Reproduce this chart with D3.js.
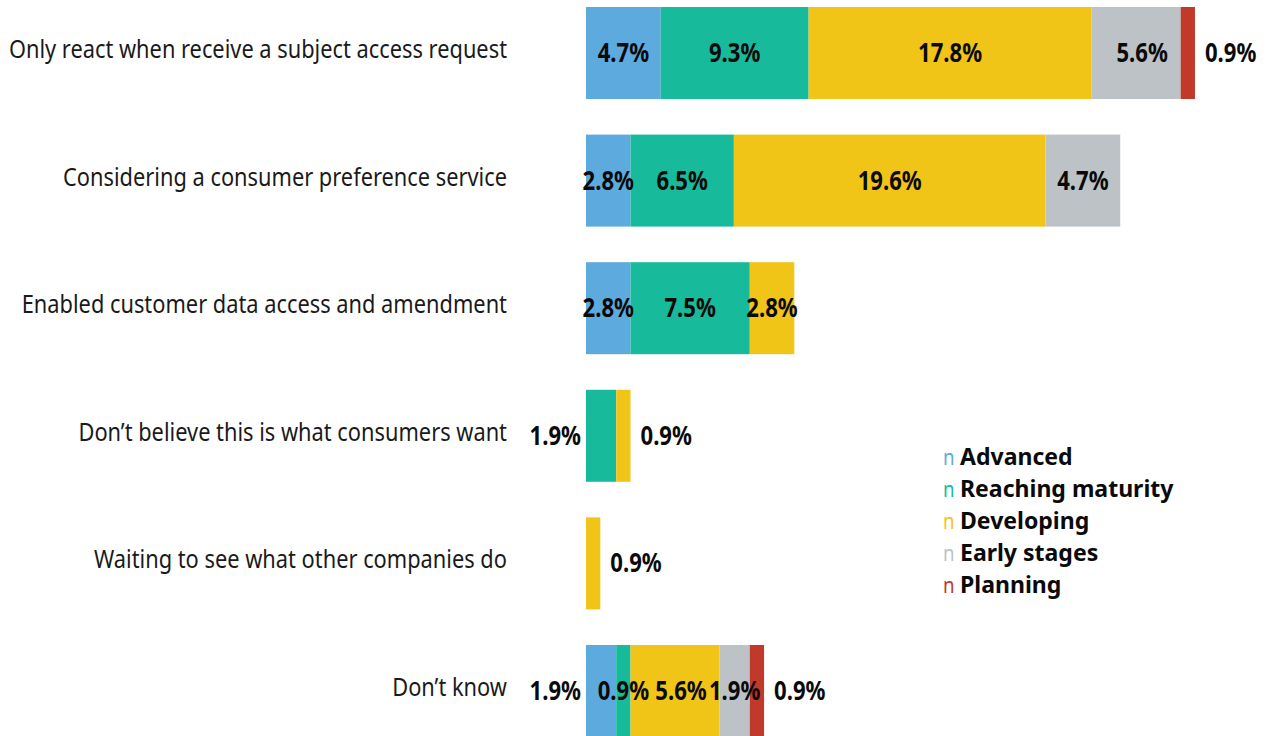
<!DOCTYPE html>
<html>
<head>
<meta charset="utf-8">
<script src="https://cdn.jsdelivr.net/npm/d3@7"></script>
<style>
  html, body { margin: 0; padding: 0; background: #fff; }
  svg { display: block; }
</style>
</head>
<body>
<svg id="chart" width="1271" height="736"></svg>
<script>
// Stages of maturity, in stacking order
const stages = ["Advanced", "Reaching maturity", "Developing", "Early stages", "Planning"];
const stageColors = ["#5DAADF", "#17BB9B", "#F1C418", "#BCC2C5", "#C0392B"];

// Responses (one bar each)
const categories = [
  "Only react when receive a subject access request",
  "Considering a consumer preference service",
  "Enabled customer data access and amendment",
  "Don\u2019t believe this is what consumers want",
  "Waiting to see what other companies do",
  "Don\u2019t know"
];

// Share of respondents (%) per stage, one array per stage
const advanced         = [4.7, 2.8, 2.8, 0,   0,   1.9];
const reachingMaturity = [9.3, 6.5, 7.5, 1.9, 0,   0.9];
const developing       = [17.8, 19.6, 2.8, 0.9, 0.9, 5.6];
const earlyStages      = [5.6, 4.7, 0,   0,   0,   1.9];
const planning         = [0.9, 0,   0,   0,   0,   0.9];

const seriesValues = [advanced, reachingMaturity, developing, earlyStages, planning];

const svg = d3.select("#chart");

const x = d3.scaleLinear().domain([0, 40]).range([586, 1222]);
const y = d3.scaleBand().domain(categories).range([7, 737]).paddingInner(0.279).paddingOuter(0);

const rows = categories.map((c, i) => {
  const obj = { category: c };
  stages.forEach((s, k) => obj[s] = seriesValues[k][i]);
  return obj;
});

const stacked = d3.stack().keys(stages)(rows);

// horizontally condensed text helper
function addText(parent, x0, y0, txt, opts) {
  return parent.append("text")
    .attr("transform", `translate(${x0},${y0}) scale(${opts.sx},1)`)
    .attr("font-family", opts.family || "'Noto Sans', sans-serif")
    .attr("font-size", opts.size)
    .attr("font-weight", opts.weight || "normal")
    .attr("fill", opts.fill || "#111")
    .attr("text-anchor", opts.anchor || "start")
    .text(txt);
}

// bars
const segs = svg.append("g");
stacked.forEach((layer, k) => {
  segs.selectAll(null)
    .data(layer.filter(d => d[1] - d[0] > 0))
    .join("rect")
    .attr("x", d => x(d[0]))
    .attr("y", d => y(d.data.category))
    .attr("width", d => x(d[1]) - x(d[0]))
    .attr("height", y.bandwidth())
    .attr("fill", stageColors[k]);
});

// value labels: small end segments get their label outside the bar
const valueLayer = svg.append("g");
const fmt = v => v.toFixed(1) + "%";
categories.forEach((c, i) => {
  const nonzero = stacked.map((layer, k) => ({ k, d: layer[i] })).filter(o => o.d[1] - o.d[0] > 0);
  nonzero.forEach((o, j) => {
    const v = o.d[1] - o.d[0];
    const cy = y(c) + y.bandwidth() / 2 + 9;
    let lx, anchor;
    if (v < 2 && j === nonzero.length - 1) {
      lx = x(o.d[1]) + 10; anchor = "start";
    } else if (v < 2 && j === 0) {
      lx = x(o.d[0]) - 5; anchor = "end";
    } else {
      lx = (x(o.d[0]) + x(o.d[1])) / 2 + (v > 5 && v < 6 ? 6 : 0); anchor = "middle";
    }
    addText(valueLayer, lx, cy, fmt(v), { size: 26, weight: "bold", sx: 0.85, anchor, fill: "#0a0a0a" });
  });
});

// category labels
const catLayer = svg.append("g");
categories.forEach(c => {
  addText(catLayer, 507, y(c) + y.bandwidth() / 2 + 5, c, { size: 25, sx: 0.873, anchor: "end", fill: "#1a1a1a" });
});

// legend
const legend = svg.append("g");
stages.forEach((s, k) => {
  const ly = 465 + k * 32;
  addText(legend, 943, ly, "n", { size: 22, sx: 0.85, fill: stageColors[k] });
  addText(legend, 960, ly, s, { size: 24, weight: "bold", sx: 0.96, fill: "#0a0a0a" });
});
</script>
</body>
</html>
